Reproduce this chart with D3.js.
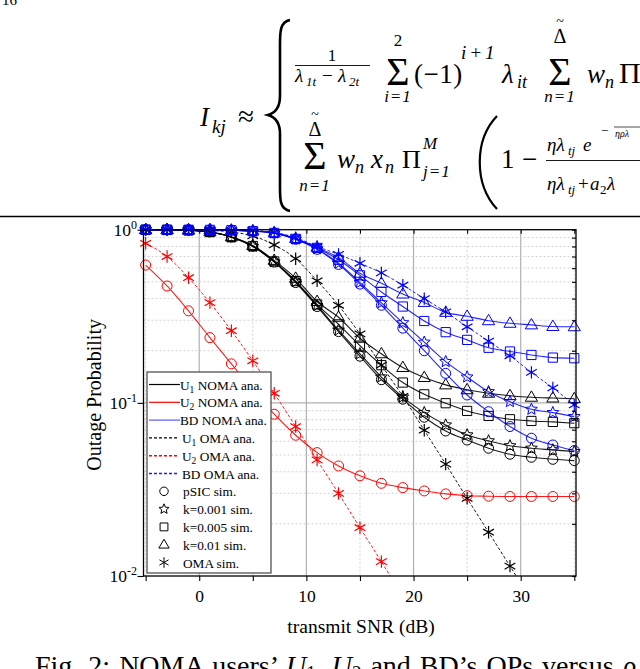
<!DOCTYPE html>
<html><head><meta charset="utf-8">
<script src="https://cdn.jsdelivr.net/npm/d3@7"></script>
<style>body{margin:0;background:#fff}svg{display:block;font-family:"Liberation Serif","Times New Roman",serif}</style>
</head><body><svg id="c" width="640" height="669"></svg>
<script>
// ---------- data ----------
const snr = [-5,-3,-1,1,3,5,7,9,11,13,15,17,19,21,23,25,27,29,31,33,35];
const u1PSIC = [0.9995,0.998,0.992,0.97,0.905,0.80,0.65,0.495,0.36,0.258,0.186,0.136,0.105,0.0826,0.0688,0.061,0.0547,0.0505,0.0485,0.0472,0.0464];
const u1K001 = [0.9995,0.998,0.992,0.97,0.905,0.80,0.652,0.50,0.365,0.263,0.192,0.141,0.108,0.0878,0.0745,0.0653,0.0603,0.0565,0.0547,0.0535,0.0523];
const u1K005 = [0.9995,0.998,0.992,0.97,0.907,0.805,0.656,0.505,0.37,0.284,0.214,0.165,0.131,0.112,0.0995,0.0898,0.084,0.0804,0.0786,0.0776,0.0763];
const u1K01  = [0.9995,0.998,0.993,0.972,0.91,0.81,0.665,0.524,0.385,0.312,0.236,0.192,0.16,0.14,0.127,0.119,0.1136,0.11,0.1077,0.1066,0.1057];
const u2NOMA = [0.625,0.473,0.34,0.238,0.168,0.119,0.086,0.065,0.0516,0.0432,0.0379,0.0343,0.0324,0.031,0.0298,0.0291,0.0289,0.0288,0.0288,0.0288,0.0288];
const bdPSIC = [0.9999,0.9998,0.9995,0.998,0.993,0.98,0.955,0.88,0.77,0.63,0.485,0.366,0.27,0.2,0.148,0.111,0.0889,0.073,0.0625,0.0571,0.053];
const bdK001 = [0.9999,0.9998,0.9995,0.998,0.993,0.98,0.956,0.882,0.775,0.64,0.495,0.378,0.29,0.224,0.173,0.141,0.116,0.1016,0.0918,0.0878,0.0833];
const bdK005 = [0.9999,0.9998,0.9995,0.998,0.994,0.982,0.958,0.885,0.785,0.67,0.545,0.437,0.36,0.297,0.256,0.231,0.208,0.198,0.189,0.1825,0.181];
const bdK01  = [0.9999,0.9998,0.9995,0.998,0.994,0.983,0.96,0.89,0.79,0.69,0.56,0.49,0.425,0.38,0.333,0.316,0.298,0.288,0.282,0.276,0.275];
const u1OMA  = [0.9998,0.9995,0.998,0.99,0.97,0.92,0.816,0.68,0.507,0.366,0.25,0.165,0.109,0.0695,0.0443,0.0281,0.0179,0.0114,0.0072];
const u2OMA  = [0.835,0.70,0.528,0.379,0.261,0.175,0.1136,0.073,0.0468,0.030,0.019,0.0121,0.0076];
const bdOMA  = [0.9999,0.9999,0.9998,0.999,0.996,0.99,0.965,0.90,0.80,0.72,0.64,0.563,0.478,0.40,0.335,0.275,0.227,0.187,0.15,0.122,0.0973];

const xMajor = [0,10,20,30];
const xMinor = [-5,5,15,25,35];
const yMajor = [1,0.1,0.01];
const yLabelExp = ["0","-1","-2"];
const xTitle = "transmit SNR (dB)";
const yTitle = "Outage Probability";

const series = [
  {v:u1PSIC,c:"#000",m:"circle",dash:null},
  {v:u1K001,c:"#000",m:"star",dash:null},
  {v:u1K005,c:"#000",m:"square",dash:null},
  {v:u1K01, c:"#000",m:"triangle",dash:null},
  {v:u1OMA, c:"#000",m:"asterisk",dash:"3,2"},
  {v:u2NOMA,c:"#ff0000",m:"circle",dash:null},
  {v:u2OMA, c:"#ff0000",m:"asterisk",dash:"3,2"},
  {v:bdPSIC,c:"#0000ff",m:"circle",dash:null},
  {v:bdK001,c:"#0000ff",m:"star",dash:null},
  {v:bdK005,c:"#0000ff",m:"square",dash:null},
  {v:bdK01, c:"#0000ff",m:"triangle",dash:null},
  {v:bdOMA, c:"#0000ff",m:"asterisk",dash:"3,2"}
];
const legendLines = [
  {sub:"1",txt:" NOMA ana.",pre:"U",c:"#000",dash:null},
  {sub:"2",txt:" NOMA ana.",pre:"U",c:"#ff0000",dash:null},
  {sub:"",txt:"BD NOMA ana.",pre:"",c:"#5a5aff",dash:null},
  {sub:"1",txt:" OMA ana.",pre:"U",c:"#000",dash:"3,2"},
  {sub:"2",txt:" OMA ana.",pre:"U",c:"#ff0000",dash:"3,2"},
  {sub:"",txt:"BD OMA ana.",pre:"",c:"#1a1aff",dash:"3,2"}
];
const legendMarks = [
  {m:"circle",txt:"pSIC sim."},
  {m:"star",txt:"k=0.001 sim."},
  {m:"square",txt:"k=0.005 sim."},
  {m:"triangle",txt:"k=0.01 sim."},
  {m:"asterisk",txt:"OMA sim."}
];

// ---------- setup ----------
const svg = d3.select("#c");
const L=143.5,R=576,T=229.7,B=576;
const x = d3.scaleLinear().domain([-5.2,35.16]).range([L,R]);
const y = d3.scaleLog().domain([0.01,1]).range([B,T]);

// ---------- equation block ----------
const eq = svg.append("g").attr("fill","#000");
function tx(g,xx,yy,s,size,it,anchor){
  return g.append("text").attr("x",xx).attr("y",yy).attr("font-size",size)
    .attr("font-style",it?"italic":"normal").attr("text-anchor",anchor||"start").text(s);
}
function hl(x1,x2,yy,w){eq.append("line").attr("x1",x1).attr("x2",x2).attr("y1",yy).attr("y2",yy).attr("stroke","#000").attr("stroke-width",w||0.9);}
tx(eq,2,5,"16",15,false);
tx(eq,200,126,"I",27,true);
tx(eq,212,133,"kj",19,true);
tx(eq,238,126,"≈",29,false);
eq.append("path").attr("d","M290 20 C279 22,280 34,280 50 L280 96 C280 108,275 113,268 115 C275 117,280 122,280 134 L280 182 C280 198,279 209,290 211")
  .attr("fill","none").attr("stroke","#000").attr("stroke-width",2.6);
// line 1
tx(eq,332,61,"1",17,false,"middle");
hl(295,370,65.5);
tx(eq,295,82,"λ",19,true); tx(eq,306,86,"1t",13,true);
tx(eq,322,82,"−",19,false);
tx(eq,338,82,"λ",19,true); tx(eq,349,86,"2t",13,true);
tx(eq,398,46,"2",17,false,"middle");
tx(eq,398,85,"Σ",40,false,"middle");
tx(eq,398,102,"i=1",17,true,"middle").attr("letter-spacing",1);
tx(eq,414,83,"(−1)",27,false).attr("letter-spacing",0.5);
tx(eq,461,59,"i+1",19,true).attr("letter-spacing",3);
tx(eq,502,83,"λ",27,true); tx(eq,517,88,"it",18,true);
tx(eq,560,43,"Δ",20,false,"middle"); tx(eq,560,26,"~",14,false,"middle");
tx(eq,560,85,"Σ",40,false,"middle");
tx(eq,560,102,"n=1",17,true,"middle").attr("letter-spacing",1);
tx(eq,587,83,"w",27,true); tx(eq,605,88,"n",18,true);
tx(eq,619,83,"Π",30,false);
// line 2
tx(eq,315,136,"Δ",20,false,"middle"); tx(eq,315,119,"~",14,false,"middle");
tx(eq,315,169,"Σ",40,false,"middle");
tx(eq,315,191,"n=1",17,true,"middle").attr("letter-spacing",1);
tx(eq,337,168,"w",27,true); tx(eq,355,173,"n",18,true);
tx(eq,371,168,"x",27,true); tx(eq,385,173,"n",18,true);
tx(eq,402,168,"Π",26,false);
tx(eq,423,149,"M",17,true);
tx(eq,423,177,"j=1",17,true).attr("letter-spacing",1);
eq.append("path").attr("d","M497 116 C474 140,474 184,497 209").attr("fill","none").attr("stroke","#000").attr("stroke-width",2.2);
tx(eq,501,168,"1",27,false);
tx(eq,522,168,"−",27,false);
tx(eq,547,151,"ηλ",19,true); tx(eq,568,155,"tj",13,true);
tx(eq,583,151,"e",19,true);
tx(eq,601,135,"−",13,false);
hl(614,640,127,0.7);
tx(eq,615,137,"ηρλ",10,true);
hl(546,640,160.5);
tx(eq,547,190,"ηλ",19,true); tx(eq,568,194,"tj",13,true);
tx(eq,578,190,"+",19,false);
tx(eq,590,190,"a",19,true); tx(eq,600,194,"2",13,false);
tx(eq,607,190,"λ",19,true);
svg.append("line").attr("x1",0).attr("x2",640).attr("y1",216.5).attr("y2",216.5).attr("stroke","#000").attr("stroke-width",1.4);

// ---------- grid ----------
const grid = svg.append("g");
xMajor.forEach(v=>grid.append("line").attr("x1",x(v)).attr("x2",x(v)).attr("y1",T).attr("y2",B).attr("stroke","#b0b0b0").attr("stroke-width",1.2));
xMinor.forEach(v=>grid.append("line").attr("x1",x(v)).attr("x2",x(v)).attr("y1",T).attr("y2",B).attr("stroke","#c8c8c8").attr("stroke-width",0.8).attr("stroke-dasharray","2,2"));
const yMinorVals = [];
[0.01,0.1].forEach(d=>{for(let k=2;k<=9;k++) yMinorVals.push(d*k);});
yMinorVals.forEach(v=>grid.append("line").attr("x1",L).attr("x2",R).attr("y1",y(v)).attr("y2",y(v)).attr("stroke","#c8c8c8").attr("stroke-width",0.8).attr("stroke-dasharray","2,2"));
grid.append("line").attr("x1",L).attr("x2",R).attr("y1",y(0.1)).attr("y2",y(0.1)).attr("stroke","#b0b0b0").attr("stroke-width",1.2);

// ---------- marker shapes ----------
function markerPath(m,s){
  s = s||1;
  if(m==="circle"){const r=5*s;return `M${-r},0A${r},${r} 0 1,0 ${r},0A${r},${r} 0 1,0 ${-r},0Z`;}
  if(m==="square"){const a=4.6*s;return `M${-a},${-a}H${a}V${a}H${-a}Z`;}
  if(m==="triangle"){const r=6.4*s;return `M0,${-r}L${r*0.95},${r*0.62}L${-r*0.95},${r*0.62}Z`;}
  if(m==="star"){let p="";const ro=6.2*s,ri=2.8*s;for(let i=0;i<10;i++){const a=-Math.PI/2+i*Math.PI/5;const r=i%2?ri:ro;p+=(i?"L":"M")+(r*Math.cos(a)).toFixed(2)+","+(r*Math.sin(a)).toFixed(2);}return p+"Z";}
  if(m==="asterisk"){const r=6.2*s;let p=`M0,${-r}V${r}`;[30,150].forEach(dg=>{const a=dg*Math.PI/180;p+=`M${(-r*Math.cos(a)).toFixed(2)},${(-r*Math.sin(a)).toFixed(2)}L${(r*Math.cos(a)).toFixed(2)},${(r*Math.sin(a)).toFixed(2)}`;});return p;}
}

// ---------- data ----------
svg.append("clipPath").attr("id","clip").append("rect").attr("x",L).attr("y",T-1).attr("width",R-L).attr("height",B-T+1);
svg.append("clipPath").attr("id","clipM").append("rect").attr("x",L-8).attr("y",T-8).attr("width",R-L+16).attr("height",B-T+8);
const line = d3.line().x((d,i)=>x(snr[i])).y(d=>y(d)).curve(d3.curveMonotoneX);
const dataG = svg.append("g").attr("clip-path","url(#clip)");
series.forEach(s=>{
  dataG.append("path").datum(s.v).attr("d",line).attr("fill","none").attr("stroke",s.c)
    .attr("stroke-width",s.dash?1:1.1).attr("stroke-dasharray",s.dash).attr("stroke-opacity",s.c==="#0000ff"?0.85:0.9);
});
const markG = svg.append("g").attr("clip-path","url(#clipM)");
series.forEach(s=>{
  markG.selectAll(null).data(s.v.map((v,i)=>({v,i})).filter(d=>d.v>=0.01)).enter().append("path")
    .attr("transform",d=>`translate(${x(snr[d.i])},${y(d.v)})`)
    .attr("d",markerPath(s.m)).attr("fill","none").attr("stroke",s.c).attr("stroke-width",s.m==="asterisk"?1.2:1);
});

// ---------- axes ----------
const axB = svg.append("g").attr("transform",`translate(0,${B})`)
  .call(d3.axisBottom(x).tickValues(xMajor.concat(xMinor)).tickSize(5).tickFormat(d=>xMajor.includes(d)?d:""));
const axT = svg.append("g").attr("transform",`translate(0,${T})`)
  .call(d3.axisBottom(x).tickValues(xMajor.concat(xMinor)).tickSize(4).tickFormat(""));
const axL = svg.append("g").attr("transform",`translate(${L},0)`)
  .call(d3.axisLeft(y).tickValues(yMajor).tickSize(6).tickFormat(""));
const axR = svg.append("g").attr("transform",`translate(${R},0)`)
  .call(d3.axisLeft(y).tickValues(yMajor.concat(yMinorVals)).tickSize(4).tickFormat(""));
[axB,axT,axL,axR].forEach(a=>{a.select(".domain").remove();a.selectAll("line").attr("stroke","#000").attr("stroke-width",1.1);});
axB.selectAll("text").attr("font-size",17.5).attr("font-family","Liberation Serif").attr("fill","#000").attr("dy","1.0em");
svg.append("rect").attr("x",L).attr("y",T).attr("width",R-L).attr("height",B-T).attr("fill","none").attr("stroke","#000").attr("stroke-width",1.3);

yMajor.forEach((v,i)=>{
  const t=svg.append("text").attr("x",137).attr("y",y(v)+6).attr("text-anchor","end").attr("font-size",17.5).text("10");
  t.append("tspan").attr("font-size",12).attr("dy",-7).text(yLabelExp[i]);
});
svg.append("text").attr("transform",`translate(101,${(T+B)/2-8}) rotate(-90)`).attr("text-anchor","middle").attr("font-size",20).text(yTitle);
svg.append("text").attr("x",361).attr("y",633).attr("text-anchor","middle").attr("font-size",19.5).text(xTitle);

// ---------- legend ----------
const lg = svg.append("g");
lg.append("rect").attr("x",147).attr("y",372).attr("width",124).attr("height",201).attr("fill","#fff").attr("stroke","#444").attr("stroke-width",1.2);
const row0=384.5, step=17.8;
legendLines.forEach((e,i)=>{
  const yy=row0+i*step;
  lg.append("line").attr("x1",149).attr("x2",e.dash?177:180).attr("y1",yy).attr("y2",yy).attr("stroke",e.c).attr("stroke-width",e.dash?1.4:1.2).attr("stroke-dasharray",e.dash);
  const t=lg.append("text").attr("x",e.dash?182:180).attr("y",yy+5).attr("font-size",13.3);
  if(e.pre){t.append("tspan").text(e.pre);t.append("tspan").attr("font-size",9.5).attr("dy",3).text(e.sub);t.append("tspan").attr("dy",-3).text(e.txt);}
  else t.text(e.txt);
});
legendMarks.forEach((e,i)=>{
  const yy=row0+(i+6)*step;
  lg.append("path").attr("transform",`translate(164,${yy})`).attr("d",markerPath(e.m,0.85)).attr("fill","none").attr("stroke","#000").attr("stroke-width",1);
  lg.append("text").attr("x",183).attr("y",yy+5).attr("font-size",13.3).text(e.txt);
});

// ---------- caption ----------
{const t=svg.append("text").attr("x",35).attr("y",675).attr("font-size",28).attr("word-spacing",2);
 t.append("tspan").text("Fig. 2: NOMA users’ ");
 t.append("tspan").attr("font-style","italic").text("U");
 t.append("tspan").attr("font-size",19).attr("dy",4).text("1");
 t.append("tspan").attr("dy",-4).text(", ");
 t.append("tspan").attr("font-style","italic").text("U");
 t.append("tspan").attr("font-size",19).attr("dy",4).text("2");
 t.append("tspan").attr("dy",-4).text(" and BD’s OPs versus ");
 t.append("tspan").attr("font-style","italic").text("ρ");}
</script></body></html>
